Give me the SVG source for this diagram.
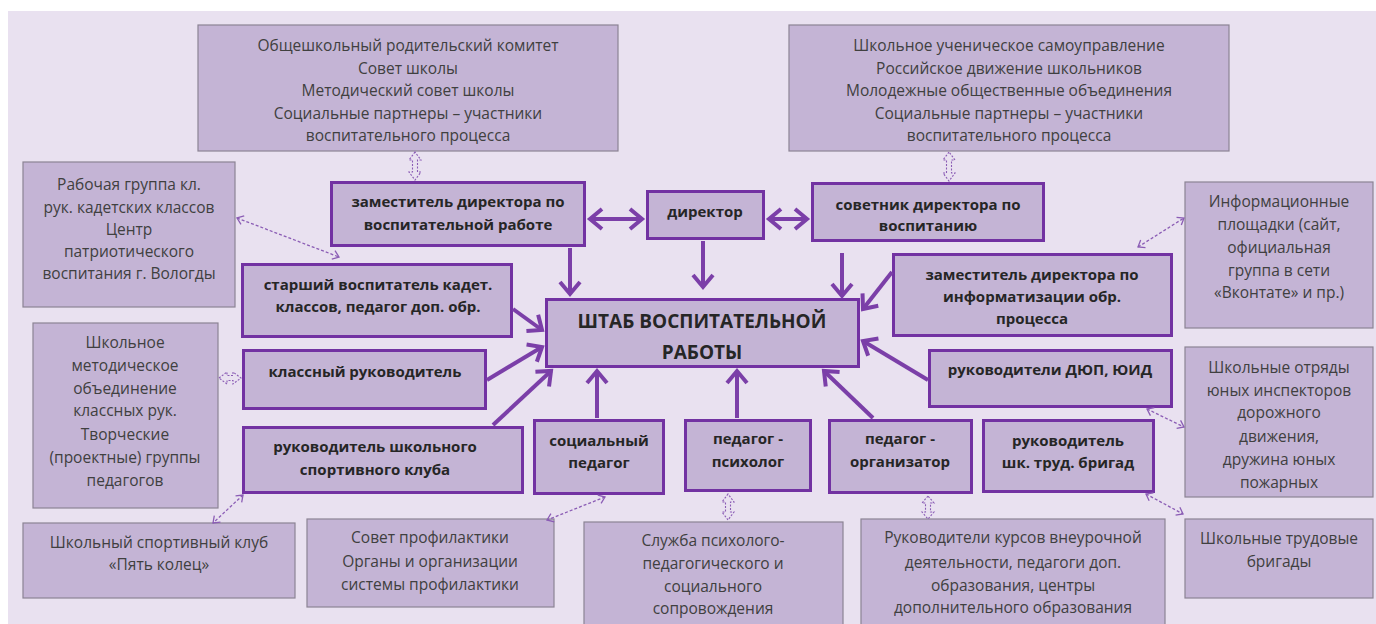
<svg xmlns="http://www.w3.org/2000/svg" width="1376" height="624" viewBox="0 0 1376 624">
<style>
.g rect{fill:#c4b4d5;stroke:#8c8494;stroke-width:1.2}
.g text{font-family:"Open Sans","Liberation Sans",sans-serif;font-size:15.5px;fill:#404040;text-anchor:middle}
.p rect{fill:#c4b4d5;stroke:#7232a2;stroke-width:3}
.p text{font-family:"Open Sans","Liberation Sans",sans-serif;font-size:15px;font-weight:bold;fill:#262626;text-anchor:middle}
.big{font-size:19px!important}
.a{stroke:#7b3fa8;stroke-width:4;fill:none}
.d{stroke:#8b5db5;stroke-width:1.3;fill:none;stroke-dasharray:3 2}
.dp{stroke:#8b5db5;stroke-width:1.1;fill:none;stroke-dasharray:2 1.5}
</style>
<defs>
<marker id="ah" viewBox="-16 -12 22 24" markerWidth="22" markerHeight="24" refX="0" refY="0" orient="auto-start-reverse" markerUnits="userSpaceOnUse"><path d="M-12,-10 L0,0 L-12,10" fill="none" stroke="#7b3fa8" stroke-width="4"/></marker>
<marker id="dh" viewBox="-8 -6 10 12" markerWidth="10" markerHeight="12" refX="0" refY="0" orient="auto-start-reverse" markerUnits="userSpaceOnUse"><path d="M-6,-4.5 L0,0 L-6,4.5" fill="none" stroke="#8b5db5" stroke-width="1.3"/></marker>
</defs>
<rect x="0" y="0" width="1376" height="624" fill="#ffffff"/>
<rect x="8" y="11" width="1368" height="613" fill="#e9e1f0"/>

<g id="n-parents" class="g"><rect x="198" y="25" width="420" height="126"/>
<text x="408" y="51">Общешкольный родительский комитет</text><text x="408" y="74">Совет школы</text><text x="408" y="96">Методический совет школы</text><text x="408" y="119">Социальные партнеры – участники</text><text x="408" y="141">воспитательного процесса</text></g>

<g id="n-students" class="g"><rect x="789" y="25" width="440" height="126"/>
<text x="1009" y="51">Школьное ученическое самоуправление</text><text x="1009" y="74">Российское движение школьников</text><text x="1009" y="96">Молодежные общественные объединения</text><text x="1009" y="119">Социальные партнеры – участники</text><text x="1009" y="141">воспитательного процесса</text></g>

<g id="n-workgroup" class="g"><rect x="23" y="162" width="212" height="145"/>
<text x="129" y="190">Рабочая группа кл.</text><text x="129" y="213">рук. кадетских классов</text><text x="129" y="235">Центр</text><text x="129" y="257">патриотического</text><text x="129" y="279">воспитания г. Вологды</text></g>

<g id="n-method" class="g"><rect x="33" y="323" width="185" height="185"/>
<text x="125" y="348">Школьное</text><text x="125" y="371">методическое</text><text x="125" y="394">объединение</text><text x="125" y="416">классных рук.</text><text x="125" y="440">Творческие</text><text x="125" y="463">(проектные) группы</text><text x="125" y="486">педагогов</text></g>

<g id="n-sportclub" class="g"><rect x="23" y="523" width="272" height="75"/>
<text x="159" y="548">Школьный спортивный клуб</text><text x="159" y="570">«Пять колец»</text></g>

<g id="n-prevention" class="g"><rect x="307" y="519" width="247" height="88"/>
<text x="430" y="543">Совет профилактики</text><text x="430" y="567">Органы и организации</text><text x="430" y="590">системы профилактики</text></g>

<g id="n-service" class="g"><rect x="584" y="522" width="259" height="104"/>
<text x="713" y="546">Служба психолого-</text><text x="713" y="569">педагогического и</text><text x="713" y="592">социального</text><text x="713" y="614">сопровождения</text></g>

<g id="n-courses" class="g"><rect x="861" y="519" width="304" height="107"/>
<text x="1013" y="543">Руководители курсов внеурочной</text><text x="1013" y="568">деятельности, педагоги доп.</text><text x="1013" y="591">образования, центры</text><text x="1013" y="613">дополнительного образования</text></g>

<g id="n-brigades" class="g"><rect x="1185" y="519" width="188" height="79"/>
<text x="1279" y="544">Школьные трудовые</text><text x="1279" y="567">бригады</text></g>

<g id="n-info" class="g"><rect x="1185" y="182" width="188" height="146"/>
<text x="1279" y="207">Информационные</text><text x="1279" y="230">площадки (сайт,</text><text x="1279" y="253">официальная</text><text x="1279" y="276">группа в сети</text><text x="1279" y="298">«Вконтате» и пр.)</text></g>

<g id="n-squads" class="g"><rect x="1185" y="347" width="188" height="150"/>
<text x="1279" y="373">Школьные отряды</text><text x="1279" y="396">юных инспекторов</text><text x="1279" y="418">дорожного</text><text x="1279" y="442">движения,</text><text x="1279" y="465">дружина юных</text><text x="1279" y="488">пожарных</text></g>

<g id="p-deputy" class="p"><rect x="331.5" y="182.5" width="253" height="63"/>
<text x="458" y="207">заместитель директора по</text><text x="458" y="230">воспитательной работе</text></g>

<g id="p-director" class="p"><rect x="647.5" y="191.5" width="116" height="47"/>
<text x="705" y="217">директор</text></g>

<g id="p-advisor" class="p"><rect x="812.5" y="183.5" width="231" height="57"/>
<text x="928" y="210">советник директора по</text><text x="928" y="231">воспитанию</text></g>

<g id="p-senior" class="p"><rect x="242.5" y="264.5" width="269" height="72"/>
<text x="378" y="290">старший воспитатель кадет.</text><text x="378" y="312">классов, педагог доп. обр.</text></g>

<g id="p-classteacher" class="p"><rect x="243.5" y="350.5" width="242" height="58"/>
<text x="365" y="377">классный руководитель</text></g>

<g id="p-hq" class="p"><rect x="546.5" y="299.5" width="312" height="67"/>
<text class="big" x="702" y="328">ШТАБ ВОСПИТАТЕЛЬНОЙ</text><text class="big" x="702" y="359">РАБОТЫ</text></g>

<g id="p-infodeputy" class="p"><rect x="893.5" y="254.5" width="278" height="81"/>
<text x="1032" y="280">заместитель директора по</text><text x="1032" y="302">информатизации обр.</text><text x="1032" y="324">процесса</text></g>

<g id="p-dyup" class="p"><rect x="929.5" y="350.5" width="242" height="56"/>
<text x="1050" y="375">руководители ДЮП, ЮИД</text></g>

<g id="p-sportlead" class="p"><rect x="243.5" y="427.5" width="279" height="65"/>
<text x="375" y="452">руководитель школьного</text><text x="375" y="475">спортивного клуба</text></g>

<g id="p-social" class="p"><rect x="534.5" y="420.5" width="129" height="73"/>
<text x="599" y="446">социальный</text><text x="599" y="468">педагог</text></g>

<g id="p-psych" class="p"><rect x="685.5" y="420.5" width="125" height="70"/>
<text x="748" y="444">педагог -</text><text x="748" y="467">психолог</text></g>

<g id="p-organizer" class="p"><rect x="829.5" y="420.5" width="142" height="72"/>
<text x="900" y="444">педагог -</text><text x="900" y="467">организатор</text></g>

<g id="p-labour" class="p"><rect x="983.5" y="420.5" width="170" height="71"/>
<text x="1068" y="446">руководитель</text><text x="1068" y="468">шк. труд. бригад</text></g>

<g id="connectors">
<line class="a" x1="590" y1="219" x2="642" y2="219" marker-start="url(#ah)" marker-end="url(#ah)"/>
<line class="a" x1="769" y1="219" x2="807" y2="219" marker-start="url(#ah)" marker-end="url(#ah)"/>
<line class="a" x1="570" y1="248" x2="570" y2="294" marker-end="url(#ah)"/>
<line class="a" x1="703" y1="241" x2="703" y2="287" marker-end="url(#ah)"/>
<line class="a" x1="842" y1="253" x2="842" y2="296" marker-end="url(#ah)"/>
<line class="a" x1="892" y1="272" x2="863" y2="309" marker-end="url(#ah)"/>
<line class="a" x1="513" y1="309" x2="542" y2="330" marker-end="url(#ah)"/>
<line class="a" x1="487" y1="380" x2="542" y2="347" marker-end="url(#ah)"/>
<line class="a" x1="493" y1="425" x2="551" y2="371" marker-end="url(#ah)"/>
<line class="a" x1="597" y1="418" x2="597" y2="371" marker-end="url(#ah)"/>
<line class="a" x1="737" y1="418" x2="737" y2="371" marker-end="url(#ah)"/>
<line class="a" x1="873" y1="418" x2="824" y2="371" marker-end="url(#ah)"/>
<line class="a" x1="928" y1="380" x2="863" y2="341" marker-end="url(#ah)"/>

<polygon class="dp" points="415,152 409,160 412.5,160 412.5,172 409,172 415,180 421,172 417.5,172 417.5,160 421,160"/>
<polygon class="dp" points="949,152 943,160 946.5,160 946.5,173 943,173 949,181 955,173 951.5,173 951.5,160 955,160"/>
<polygon class="dp" points="728,494 722,502 725.5,502 725.5,512 722,512 728,520 734,512 730.5,512 730.5,502 734,502"/>
<polygon class="dp" points="928,496 922,503 925.5,503 925.5,512 922,512 928,519 934,512 930.5,512 930.5,503 934,503"/>
<polygon class="dp" points="219,378 227,372 227,375.5 233,375.5 233,372 241,378 233,384 233,380.5 227,380.5 227,384"/>
<line class="d" x1="237" y1="218" x2="339" y2="257" marker-start="url(#dh)" marker-end="url(#dh)"/>
<line class="d" x1="243" y1="495" x2="213" y2="523" marker-start="url(#dh)" marker-end="url(#dh)"/>
<line class="d" x1="605" y1="497" x2="547" y2="520" marker-start="url(#dh)" marker-end="url(#dh)"/>
<line class="d" x1="1146" y1="494" x2="1183" y2="514" marker-start="url(#dh)" marker-end="url(#dh)"/>
<line class="d" x1="1147" y1="409" x2="1184" y2="427" marker-start="url(#dh)" marker-end="url(#dh)"/>
<line class="d" x1="1138" y1="247" x2="1184" y2="218" marker-start="url(#dh)" marker-end="url(#dh)"/>
</g>
</svg>
